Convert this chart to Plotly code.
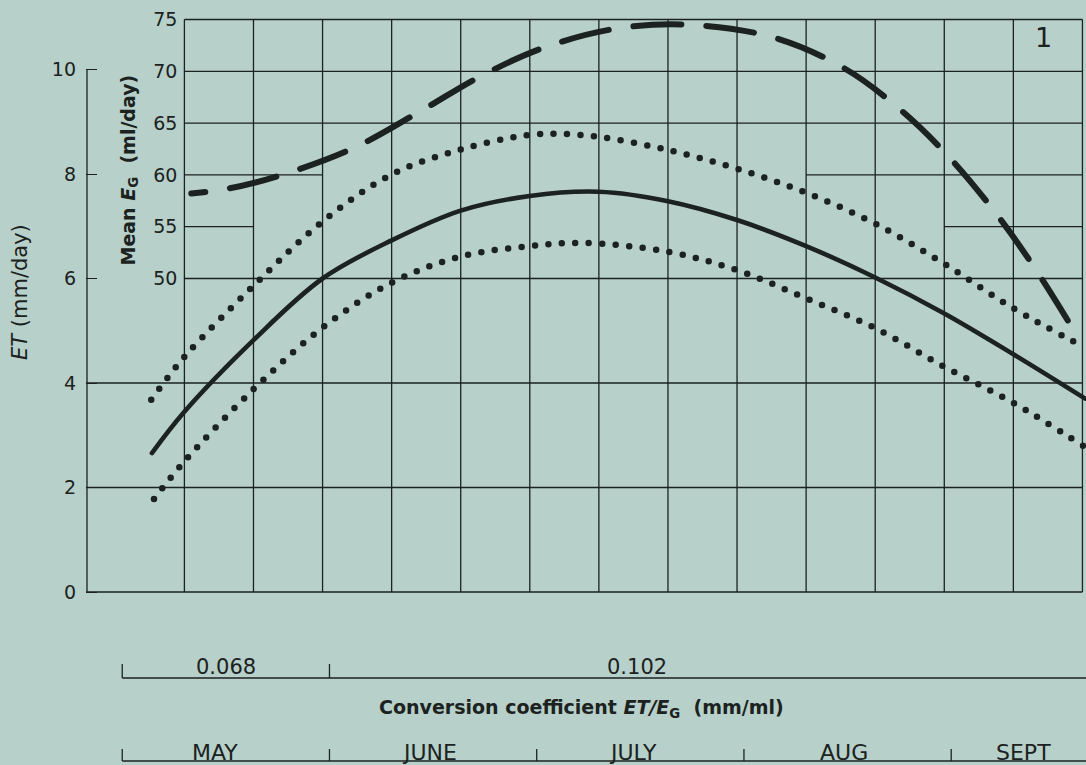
import plotly.graph_objects as go

# ---------------------------------------------------------------- data ---
# Season axis: days counted from 1 May, months drawn as 30-day blocks
months = ["MAY", "JUNE", "JULY", "AUG", "SEPT"]
month_start = [0, 30, 60, 90, 120]
month_label_day = [13.5, 44.5, 74, 104.5, 130.5]

# Conversion coefficient ET/E_G (mm/ml) and the period it applies to
coef_values = ["0.068", "0.102"]
coef_start = [0, 30]
coef_label_day = [15, 74.5]

et_ticks = [0, 2, 4, 6, 8, 10]          # ET (mm/day)
eg_ticks = [50, 55, 60, 65, 70, 75]     # mean E_G (ml/day)

# Evapotranspiration ET (mm/day): mean curve
et_day = [4.3, 9, 19, 29, 39, 49, 59, 69, 79, 89, 99, 109, 119, 129, 139.4]
et_mean = [2.66, 3.45, 4.82, 6.00, 6.73, 7.30, 7.58, 7.66, 7.48, 7.12,
           6.62, 6.02, 5.33, 4.55, 3.70]

# upper limit of ET band
et_up_day = [4.2, 9, 19, 29, 39, 49, 58.5, 63, 69, 79, 89, 99, 109, 119, 129, 138.9]
et_up = [3.68, 4.50, 5.86, 7.09, 7.99, 8.47, 8.74, 8.77, 8.71, 8.46, 8.10,
         7.64, 7.05, 6.28, 5.43, 4.71]

# lower limit of ET band
et_lo_day = [4.6, 9, 19, 29, 39, 49, 59, 66.8, 79, 89, 99, 109, 119, 129, 139.2]
et_lo = [1.78, 2.50, 3.88, 5.06, 5.92, 6.42, 6.62, 6.68, 6.51, 6.16, 5.62,
         5.05, 4.31, 3.62, 2.79]

# Mean E_G (ml/day)
eg_day = [10, 15.5, 22.6, 33.5, 43.3, 52.1, 61.1, 71.3, 81.8, 94.1, 104.5,
          112.8, 120.0, 126.8, 132.2, 138.3]
eg_mean = [58.2, 58.7, 59.9, 62.6, 66.2, 69.6, 72.3, 74.1, 74.5, 73.3, 70.3,
           66.2, 61.5, 56.0, 50.9, 44.4]

# Ruling of the graph paper
grid_days = list(range(9, 140, 10))
eg_rules = [(75, 9, 139), (70, 9, 139), (65, 9, 139), (60, 9, 29), (60, 99, 139),
            (55, 9, 19), (55, 119, 139), (50, 9, 139)]
et_rules = [0, 2, 4]

# ------------------------------------------------------------- geometry ---
W, H = 1086, 765
PLOT_L, PLOT_R, PLOT_T, PLOT_B = 86, 1086, 8, 600
DAY0_PX, PX_PER_DAY, DAY0 = 184.4, 6.908, 9          # day 9 rule position
ET0_PX, PX_PER_ET = 592.0, 52.25                      # ET = 0 line
EG50_PX, PX_PER_EG = 278.5, 10.36                     # E_G = 50 line

x_range = [DAY0 + (PLOT_L - DAY0_PX) / PX_PER_DAY, DAY0 + (PLOT_R - DAY0_PX) / PX_PER_DAY]
et_range = [(ET0_PX - PLOT_B) / PX_PER_ET, (ET0_PX - PLOT_T) / PX_PER_ET]
eg_range = [50 - (PLOT_B - EG50_PX) / PX_PER_EG, 50 + (EG50_PX - PLOT_T) / PX_PER_EG]
eg_at_et0 = 50 - (ET0_PX - EG50_PX) / PX_PER_EG


def yp(px):
    """pixel row -> paper fraction"""
    return (PLOT_B - px) / (PLOT_B - PLOT_T)


def xp(px):
    """pixel column -> paper fraction"""
    return (px - PLOT_L) / (PLOT_R - PLOT_L)


BG = "#b7d0ca"
INK = "#1b2220"
FONT = "DejaVu Sans"
GW = 1.3

# ---------------------------------------------------------------- marks ---
fig = go.Figure()
dots = "0px,13.5px"
fig.add_trace(go.Scatter(x=et_up_day, y=et_up, mode="lines", yaxis="y",
                         line=dict(color=INK, width=6.5, dash=dots, shape="spline")))
fig.add_trace(go.Scatter(x=et_day, y=et_mean, mode="lines", yaxis="y",
                         line=dict(color=INK, width=4.6, shape="spline")))
fig.add_trace(go.Scatter(x=et_lo_day, y=et_lo, mode="lines", yaxis="y",
                         line=dict(color=INK, width=6.5, dash=dots, shape="spline")))

dash_pattern = "14px,25px," + ",".join(["48px,25px"] * 20)
fig.add_trace(go.Scatter(x=eg_day, y=eg_mean, mode="lines", yaxis="y2",
                         line=dict(color=INK, width=6, dash=dash_pattern, shape="spline")))

# --------------------------------------------------------------- shapes ---
shapes = []
for d in grid_days:
    shapes.append(dict(type="line", xref="x", yref="y2", x0=d, x1=d,
                       y0=eg_at_et0, y1=eg_ticks[-1], line=dict(color=INK, width=GW)))
for v, d0, d1 in eg_rules:
    shapes.append(dict(type="line", xref="x", yref="y2", x0=d0, x1=d1, y0=v, y1=v,
                       line=dict(color=INK, width=GW)))
for v in et_rules:
    shapes.append(dict(type="line", xref="x", yref="y", x0=x_range[0], x1=grid_days[-1],
                       y0=v, y1=v, line=dict(color=INK, width=GW)))
# ET scale bar
shapes.append(dict(type="line", xref="paper", yref="y", x0=0.001, x1=0.001,
                   y0=et_ticks[0], y1=et_ticks[-1], line=dict(color=INK, width=GW)))

# conversion-coefficient bracket
shapes.append(dict(type="line", xref="x", yref="paper", x0=coef_start[0], x1=x_range[1],
                   y0=yp(678), y1=yp(678), line=dict(color=INK, width=GW)))
for d in coef_start:
    shapes.append(dict(type="line", xref="x", yref="paper", x0=d, x1=d,
                       y0=yp(678), y1=yp(664), line=dict(color=INK, width=GW)))
# month bracket
shapes.append(dict(type="line", xref="x", yref="paper", x0=month_start[0], x1=x_range[1],
                   y0=yp(761), y1=yp(761), line=dict(color=INK, width=GW)))
for d in month_start:
    shapes.append(dict(type="line", xref="x", yref="paper", x0=d, x1=d,
                       y0=yp(761), y1=yp(749), line=dict(color=INK, width=GW)))

# ---------------------------------------------------------- annotations ---
ann = []
for lab, d in zip(coef_values, coef_label_day):
    ann.append(dict(text=lab, xref="x", yref="paper", x=d, y=yp(667), showarrow=False,
                    xanchor="center", yanchor="middle", font=dict(family=FONT, size=21, color=INK)))
for lab, d in zip(months, month_label_day):
    ann.append(dict(text=lab, xref="x", yref="paper", x=d, y=yp(752), showarrow=False,
                    xanchor="center", yanchor="middle", font=dict(family=FONT, size=22, color=INK)))
ann.append(dict(text="<b>Conversion coefficient <i>ET/E</i><sub>G</sub>  (mm/ml)</b>",
                xref="paper", yref="paper", x=xp(581), y=yp(708), showarrow=False,
                xanchor="center", yanchor="middle", font=dict(family=FONT, size=19, color=INK)))
ann.append(dict(text="<i>ET</i> (mm/day)", xref="paper", yref="paper", x=xp(20), y=yp(292),
                textangle=-90, showarrow=False, xanchor="center", yanchor="middle",
                font=dict(family=FONT, size=21, color=INK)))
ann.append(dict(text="<b>Mean <i>E</i><sub>G</sub>  (ml/day)</b>", xref="paper", yref="paper",
                x=xp(128.5), y=yp(170), textangle=-90, showarrow=False,
                xanchor="center", yanchor="middle", font=dict(family=FONT, size=19, color=INK)))
ann.append(dict(text="1", xref="paper", yref="paper", x=xp(1043), y=yp(38), showarrow=False,
                xanchor="center", yanchor="middle", font=dict(family=FONT, size=27, color=INK)))

fig.update_layout(
    width=W, height=H,
    margin=dict(l=PLOT_L, r=W - PLOT_R, t=PLOT_T, b=H - PLOT_B, pad=0),
    paper_bgcolor=BG, plot_bgcolor=BG,
    showlegend=False,
    xaxis=dict(range=x_range, visible=False, showgrid=False, zeroline=False, fixedrange=True),
    yaxis=dict(range=et_range, tickvals=et_ticks, ticks="inside", ticklen=11,
               tickwidth=GW, tickcolor=INK, showgrid=False, zeroline=False, showline=False,
               ticklabelstandoff=9, tickfont=dict(family=FONT, size=19, color=INK)),
    yaxis2=dict(range=eg_range, tickvals=eg_ticks, overlaying="y", anchor="free",
                position=xp(DAY0_PX), side="left", ticks="", showgrid=False,
                zeroline=False, showline=False, ticklabelstandoff=7,
                tickfont=dict(family=FONT, size=19, color=INK)),
    shapes=shapes,
    annotations=ann,
)

round_caps = ("document.querySelectorAll('.scatterlayer path.js-line').forEach(function(p){"
              "p.style.strokeLinecap='round';p.style.strokeLinejoin='round';});")
fig.write_html("out.html", post_script=round_caps)
